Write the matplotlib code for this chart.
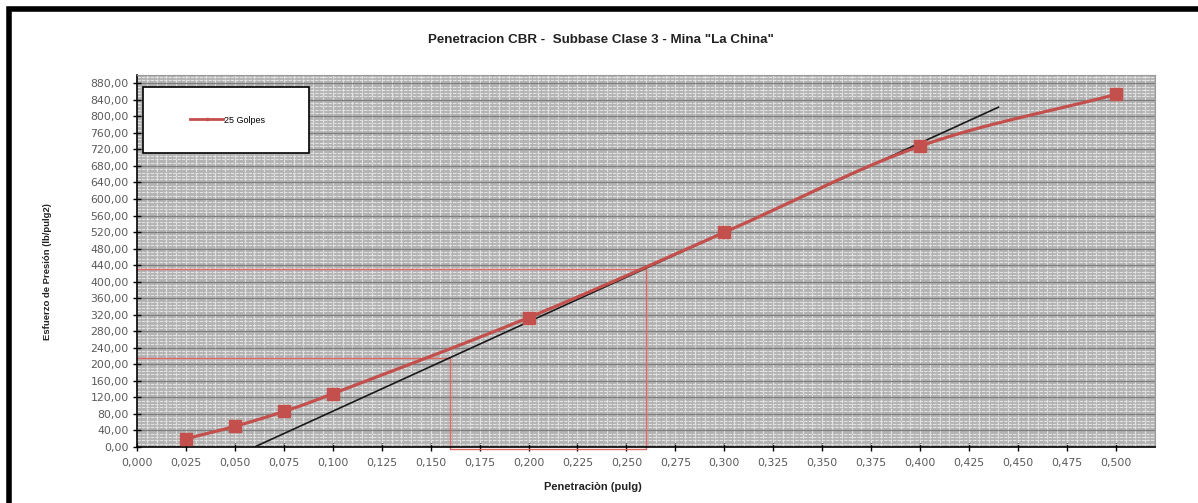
import numpy as np
import matplotlib
matplotlib.use("Agg")
import matplotlib.pyplot as plt
from matplotlib.patches import Rectangle
from matplotlib.ticker import FuncFormatter, MultipleLocator
from matplotlib.lines import Line2D

plt.rcParams['font.family'] = ['Liberation Sans', 'DejaVu Sans']

# Data
penetracion = [0.025, 0.050, 0.075, 0.100, 0.200, 0.300, 0.400, 0.500]
esfuerzo = [20, 50, 86, 129, 313, 519, 728, 853]
serie_label = "25 Golpes"
tangente_x = [0.060, 0.440]
tangente_y = [0, 822]
lectura_01 = (0.16, 216)
lectura_02 = (0.26, 430)
titulo = 'Penetracion CBR -  Subbase Clase 3 - Mina "La China"'
xlabel = "Penetraciòn (pulg)"
ylabel = "Esfuerzo de Presión (lb/pulg2)"


def smooth(x, y, n=30):
    # Catmull-Rom rendering of the series (Excel-like smoothed line)
    x = np.asarray(x, float); y = np.asarray(y, float)
    P = np.column_stack([x, y])
    P = np.vstack([2 * P[0] - P[1], P, 2 * P[-1] - P[-2]])
    out = []
    for i in range(1, len(P) - 2):
        p0, p1, p2, p3 = P[i - 1], P[i], P[i + 1], P[i + 2]
        t = np.linspace(0, 1, n)[:, None]
        c = 0.5 * ((2 * p1) + (-p0 + p2) * t + (2 * p0 - 5 * p1 + 4 * p2 - p3) * t**2
                   + (-p0 + 3 * p1 - 3 * p2 + p3) * t**3)
        out.append(c if i == 1 else c[1:])
    c = np.vstack(out)
    return c[:, 0], c[:, 1]


fig = plt.figure(figsize=(11.98, 5.03), dpi=100)
ax = fig.add_axes([137 / 1198, 56 / 503, 1018 / 1198, 372 / 503])

# outer frame
fig.patches.append(Rectangle((9 / 1198, -0.1), 1.2, (503 - 9) / 503 + 0.1,
                             transform=fig.transFigure, fill=False,
                             edgecolor='black', lw=4, zorder=10))

ax.set_facecolor('#b3b3b3')
ax.set_xlim(0, 0.52)
ax.set_ylim(0, 900)
ax.xaxis.set_major_locator(MultipleLocator(0.025))
ax.yaxis.set_major_locator(MultipleLocator(40))
ax.xaxis.set_minor_locator(MultipleLocator(0.005))
ax.yaxis.set_minor_locator(MultipleLocator(8))
ax.grid(which='minor', color='#e2e2e2', lw=0.8, ls=(0, (3, 1)))
ax.grid(which='major', axis='y', color='#7e7e7e', lw=0.9)
ax.grid(which='major', axis='x', color='#e2e2e2', lw=0.8, ls=(0, (3, 1)))
ax.set_axisbelow(True)

ax.xaxis.set_major_formatter(FuncFormatter(lambda v, p: f"{v:.3f}".replace('.', ',')))
ax.yaxis.set_major_formatter(FuncFormatter(lambda v, p: f"{v:.2f}".replace('.', ',')))
ax.tick_params(axis='both', which='major', direction='inout', length=6, width=1,
               labelsize=7.8, labelcolor='#5a5a5a', color='black')
for lab in ax.get_xticklabels() + ax.get_yticklabels():
    lab.set_family('DejaVu Sans')
ax.tick_params(axis='x', pad=5)
ax.tick_params(axis='y', pad=3)
ax.tick_params(which='minor', length=0)
for s in ['top', 'right']:
    ax.spines[s].set_color('#9a9a9a')
for s in ['left', 'bottom']:
    ax.spines[s].set_color('black')
    ax.spines[s].set_linewidth(1.2)

# reading lines
x1, y1 = lectura_01
x2, y2 = lectura_02
ax.plot([0, x1, x1, x2, x2, 0], [y1, y1, -4, -4, y2, y2], color='#de6a66',
        lw=1.0, clip_on=False, zorder=2)

# tangent line
ax.plot(tangente_x, tangente_y, color='#1a1a1a', lw=1.2, zorder=3)

# series
sx, sy = smooth(penetracion, esfuerzo)
ax.plot(sx, sy, color='#c4504d', lw=2.3, zorder=4)
ax.plot(penetracion, esfuerzo, ls='none', marker='s', ms=8, color='#c4504d', zorder=5)

# legend box
ax.add_patch(Rectangle((0.006, 0.79), 0.163, 0.178, transform=ax.transAxes,
                       facecolor='white', edgecolor='black', lw=1.2, zorder=6))
h = Line2D([], [], color='#c4504d', lw=2, marker='s', ms=2)
leg = ax.legend([h], [serie_label], loc='center', bbox_to_anchor=(0.089, 0.879),
                frameon=False, fontsize=6.5, handlelength=3.6, handletextpad=0.1)
leg.set_zorder(7)

fig.text(601 / 1198, 1 - 40 / 503, titulo, ha='center', va='center',
         fontsize=9.6, fontweight='bold', color='#222222')
fig.text(593 / 1198, 1 - 487 / 503, xlabel, ha='center', va='center',
         fontsize=8, fontweight='bold', color='#222222')
fig.text(48 / 1198, 1 - 272 / 503, ylabel, ha='center', va='center',
         rotation=90, fontsize=6.8, fontweight='bold', color='#222222')

fig.savefig('out.png', dpi=100)
